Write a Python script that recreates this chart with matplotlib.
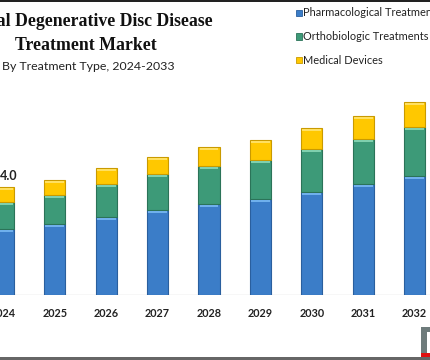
import matplotlib
matplotlib.use("Agg")
import matplotlib.pyplot as plt
from matplotlib.patches import Rectangle
import numpy as np

years = ["2024", "2025", "2026", "2027", "2028", "2029", "2030", "2031", "2032"]
pharma = [2.44, 2.63, 2.89, 3.15, 3.37, 3.56, 3.81, 4.11, 4.41]
ortho = [1.00, 1.07, 1.22, 1.33, 1.41, 1.44, 1.59, 1.67, 1.81]
devices = [0.56, 0.56, 0.59, 0.63, 0.70, 0.74, 0.78, 0.85, 0.93]
labels = ["Pharmacological Treatments", "Orthobiologic Treatments", "Medical Devices"]
first_total = "4.0"

colors = ["#3b7dc8", "#3d9a78", "#ffc800"]
edges = ["#2a5f9e", "#2b7358", "#c99a00"]
lights = ["#6fb0ec", "#7fd0ae", "#ffe060"]

plt.rcParams["font.family"] = ["Lato", "DejaVu Sans"]

fig = plt.figure(figsize=(4.31, 3.6), dpi=100)
ax = fig.add_axes([0, 65 / 360, 1, 205 / 360])

x = np.arange(len(years))
w = 0.41
series = [np.array(pharma), np.array(ortho), np.array(devices)]
bottom = np.zeros(len(years))
for vals, c, e, l in zip(series, colors, edges, lights):
    ax.bar(x, vals, w, bottom=bottom, color=c, edgecolor=e, linewidth=0.8, zorder=3)
    # bevel highlight on top of each segment
    ax.bar(x, 0.07, w * 0.9, bottom=bottom + vals - 0.1, color=l, linewidth=0, zorder=4)
    bottom = bottom + vals

ax.axhline(0, color="#d9d9d9", linewidth=1, zorder=2)
ax.text(x[0] + 0.1, bottom[0] + 0.2, first_total, ha="center", va="bottom",
        fontsize=9, fontweight="bold", color="#222222")

ax.set_xlim(-3.5 / 51.375, 8 + 16.5 / 51.375)
ax.set_ylim(0, 205 / 27)
ax.set_xticks(x)
ax.set_xticklabels(years, fontsize=7.8, fontweight="bold", color="#222222")
ax.tick_params(axis="x", length=0, pad=9.5)
ax.set_yticks([])
for s in ax.spines.values():
    s.set_visible(False)

# title and subtitle
fig.text(86 / 431, 1 - 22 / 360, "Global Degenerative Disc Disease", ha="center", va="center",
         family="Liberation Serif", fontweight="bold", fontsize=12.8, color="#111111")
fig.text(86 / 431, 1 - 45 / 360, "Treatment Market", ha="center", va="center",
         family="Liberation Serif", fontweight="bold", fontsize=12.8, color="#111111")
fig.text(2 / 431, 1 - 67 / 360, "By Treatment Type, 2024-2033", ha="left", va="center",
         fontsize=8.9, color="#222222")

# legend
for i, (lab, c, e) in enumerate(zip(labels, colors, edges)):
    yc = 1 - (13 + i * 23.5) / 360
    fig.patches.append(Rectangle((296 / 431, yc - 3 / 360), 6 / 431, 6 / 360,
                                 transform=fig.transFigure, facecolor=c, edgecolor=e, linewidth=0.6))
    fig.text(303 / 431, yc, lab, ha="left", va="center", fontsize=7.9, color="#222222")

# frame lines
fig.patches.append(Rectangle((0, 1 - 2 / 360), 1, 2 / 360, transform=fig.transFigure,
                             facecolor="#222222", edgecolor="none"))
fig.patches.append(Rectangle((0, 0), 1, 3 / 360, transform=fig.transFigure,
                             facecolor="#666666", edgecolor="none"))
# logo corner
fig.patches.append(Rectangle((421 / 431, 6 / 360), 6 / 431, 27 / 360, transform=fig.transFigure,
                             facecolor="#6e7b7b", edgecolor="none"))
fig.patches.append(Rectangle((421 / 431, 28 / 360), 10 / 431, 5 / 360, transform=fig.transFigure,
                             facecolor="#6e7b7b", edgecolor="none"))
fig.patches.append(Rectangle((421 / 431, 3 / 360), 10 / 431, 4 / 360, transform=fig.transFigure,
                             facecolor="#e01010", edgecolor="none"))

fig.savefig("out.png", dpi=100)
